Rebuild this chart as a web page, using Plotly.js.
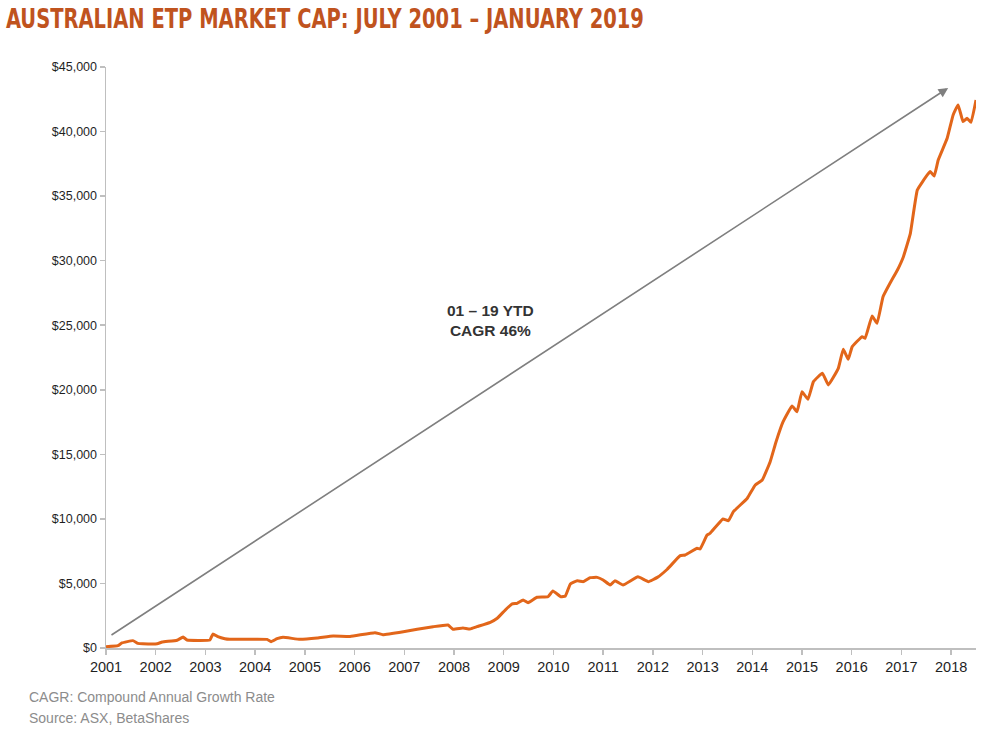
<!DOCTYPE html>
<html>
<head>
<meta charset="utf-8">
<script src="https://cdn.plot.ly/plotly-3.0.1.min.js"></script>
<style>html,body{margin:0;padding:0;background:#fff;}#chart{width:984px;height:739px;}</style>
</head>
<body>
<div id="chart"></div>
<script>
// Decimal-year positions and market cap (A$ millions)
const years = [2001.0, 2001.24, 2001.32, 2001.54, 2001.64, 2001.74, 2002.03, 2002.13, 2002.43, 2002.55,
  2002.63, 2003.09, 2003.15, 2003.25, 2003.39, 2003.49, 2004.24, 2004.32, 2004.44, 2004.56,
  2004.90, 2005.25, 2005.57, 2005.91, 2006.41, 2006.57, 2006.98, 2007.26, 2007.58, 2007.88,
  2007.98, 2008.18, 2008.32, 2008.46, 2008.73, 2008.87, 2009.03, 2009.17, 2009.27, 2009.39,
  2009.49, 2009.67, 2009.89, 2009.99, 2010.15, 2010.24, 2010.34, 2010.48, 2010.60, 2010.74,
  2010.88, 2011.00, 2011.14, 2011.24, 2011.40, 2011.70, 2011.91, 2012.09, 2012.29, 2012.55,
  2012.65, 2012.89, 2012.95, 2013.09, 2013.15, 2013.41, 2013.52, 2013.62, 2013.90, 2014.06,
  2014.20, 2014.36, 2014.48, 2014.62, 2014.80, 2014.90, 2015.00, 2015.12, 2015.23, 2015.41,
  2015.53, 2015.73, 2015.83, 2015.93, 2016.01, 2016.21, 2016.27, 2016.41, 2016.51, 2016.63,
  2016.77, 2016.92, 2017.04, 2017.18, 2017.32, 2017.52, 2017.58, 2017.66, 2017.74, 2017.92,
  2018.04, 2018.14, 2018.24, 2018.32, 2018.40, 2018.50];
const marketCap = [100, 180, 390, 570, 360, 330, 330, 460, 600, 850,
  620, 620, 1080, 880, 720, 670, 670, 490, 720, 830,
  670, 770, 930, 900, 1190, 1030, 1260, 1450, 1650, 1780,
  1450, 1550, 1470, 1650, 1990, 2300, 2940, 3410, 3460, 3720,
  3510, 3930, 3970, 4420, 3970, 4030, 4960, 5210, 5140, 5450,
  5470, 5270, 4880, 5210, 4880, 5520, 5140, 5470, 6100, 7150,
  7200, 7720, 7670, 8750, 8880, 9990, 9860, 10560, 11600, 12630,
  13010, 14430, 16000, 17530, 18750, 18300, 19850, 19260, 20630, 21280,
  20370, 21660, 23140, 22360, 23340, 24110, 23990, 25720, 25150, 27210,
  28250, 29280, 30310, 32120, 35480, 36640, 36900, 36560, 37800, 39480,
  41290, 42060, 40770, 41030, 40720, 42450];
const tickYears = [2001, 2002, 2003, 2004, 2005, 2006, 2007, 2008, 2009, 2010,
  2011, 2012, 2013, 2014, 2015, 2016, 2017, 2018];
const tickLabels = tickYears.map(String);
const yTicks = [0, 5000, 10000, 15000, 20000, 25000, 30000, 35000, 40000, 45000];
const yTickLabels = ["$0", "$5,000", "$10,000", "$15,000", "$20,000", "$25,000",
  "$30,000", "$35,000", "$40,000", "$45,000"];
const arrowStart = [2001.08, 930];
const arrowEnd = [2017.94, 43380];
const cagrLabel = "01 – 19 YTD<br>CAGR 46%";
const titleText = "AUSTRALIAN ETP MARKET CAP: JULY 2001 – JANUARY 2019";
const footnotes = ["CAGR: Compound Annual Growth Rate", "Source: ASX, BetaShares"];

const trace = {
  x: years, y: marketCap, type: "scatter", mode: "lines",
  line: {color: "#E2661A", width: 3, shape: "spline", smoothing: 0.3},
  hoverinfo: "x+y"
};

const layout = {
  width: 984, height: 739,
  margin: {l: 106, r: 8, t: 67, b: 91},
  paper_bgcolor: "#ffffff", plot_bgcolor: "#ffffff",
  showlegend: false,
  title: {
    text: titleText,
    x: 0.006, xanchor: "left", xref: "container",
    y: 1 - 19/739, yanchor: "middle", yref: "container",
    font: {family: "Liberation Sans Narrow, DejaVu Sans Condensed, Arial Narrow, sans-serif", size: 27, color: "#C0531E", weight: "bold"}
  },
  xaxis: {
    range: [2001, 2018.5],
    tickvals: tickYears, ticktext: tickLabels,
    showgrid: false, zeroline: false,
    showline: true, linecolor: "#BFBFBF", linewidth: 1.5,
    ticks: "outside", ticklen: 5, tickcolor: "#BFBFBF", tickwidth: 1.5,
    tickfont: {family: "Liberation Sans, Arial, sans-serif", size: 14.5, color: "#1f1f1f"}
  },
  yaxis: {
    range: [0, 45000],
    tickvals: yTicks, ticktext: yTickLabels,
    showgrid: false, zeroline: false,
    showline: true, linecolor: "#BFBFBF", linewidth: 1.5,
    ticks: "outside", ticklen: 5, tickcolor: "#BFBFBF", tickwidth: 1.5,
    tickfont: {family: "Liberation Sans, Arial, sans-serif", size: 12.5, color: "#1f1f1f"}
  },
  annotations: [
    {
      x: arrowEnd[0], y: arrowEnd[1], ax: arrowStart[0], ay: arrowStart[1],
      xref: "x", yref: "y", axref: "x", ayref: "y",
      showarrow: true, arrowhead: 2, arrowsize: 1.2, arrowwidth: 1.6,
      arrowcolor: "#7F7F7F", text: ""
    },
    {
      x: 2008.73, y: 25330, xref: "x", yref: "y", showarrow: false,
      text: cagrLabel, align: "center",
      font: {family: "Liberation Sans, Arial, sans-serif", size: 15.5, color: "#333333", weight: "bold"}
    },
    {
      x: -0.091, y: -0.084, xref: "paper", yref: "paper", xanchor: "left", yanchor: "middle",
      showarrow: false, text: footnotes[0],
      font: {family: "Liberation Sans, Arial, sans-serif", size: 14, color: "#8C8C8C"}
    },
    {
      x: -0.091, y: -0.12, xref: "paper", yref: "paper", xanchor: "left", yanchor: "middle",
      showarrow: false, text: footnotes[1],
      font: {family: "Liberation Sans, Arial, sans-serif", size: 14, color: "#8C8C8C"}
    }
  ]
};

Plotly.newPlot("chart", [trace], layout, {displayModeBar: false, staticPlot: true}).then(function (gd) {
  // Condense the title horizontally to match the narrow display face of the original
  const t = gd.querySelector(".gtitle");
  if (t) {
    t.setAttribute("textLength", "638");
    t.setAttribute("lengthAdjust", "spacingAndGlyphs");
  }
});
</script>
</body>
</html>
